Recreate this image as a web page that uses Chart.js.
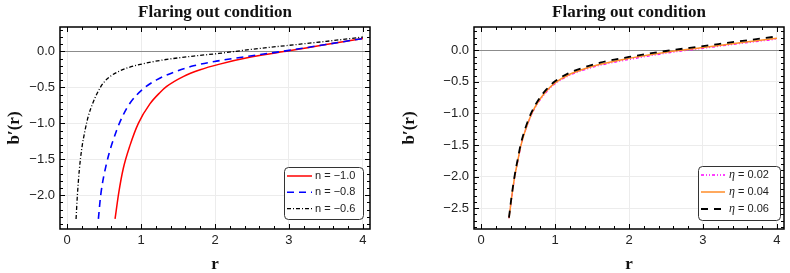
<!DOCTYPE html>
<html>
<head>
<meta charset="utf-8">
<script src="https://cdn.jsdelivr.net/npm/chart.js@4.4.1/dist/chart.umd.min.js"></script>
<style>
  html, body { margin: 0; padding: 0; background: #fff; }
  #wrap { width: 790px; height: 273px; display: flex; }
  canvas { display: block; }
</style>
</head>
<body>
<div id="wrap">
  <canvas id="leftChart" width="395" height="273"></canvas>
  <canvas id="rightChart" width="395" height="273"></canvas>
</div>
<script>
// left panel: b'(r) for three n values
const rN10 = [0.649, 0.7, 0.761, 0.85, 0.964, 1.12, 1.257, 1.347, 1.57, 1.8, 2.05, 2.5, 3.0, 3.5, 4.0];
const bN10 = [-2.33, -1.96, -1.625, -1.31, -1.0, -0.73, -0.571, -0.487, -0.35, -0.255, -0.18, -0.075, 0.01, 0.095, 0.18];

const rN08 = [0.424, 0.455, 0.536, 0.67, 0.761, 0.85, 1.03, 1.21, 1.44, 1.71, 2.02, 2.5, 3.0, 3.5, 4.0];
const bN08 = [-2.33, -2.0, -1.55, -1.1, -0.88, -0.72, -0.52, -0.395, -0.29, -0.2, -0.135, -0.06, 0.015, 0.097, 0.18];

const rN06 = [0.122, 0.14, 0.166, 0.198, 0.243, 0.288, 0.356, 0.423, 0.49, 0.58, 0.716, 0.806, 0.99, 1.257, 1.71, 2.05, 2.5, 3.0, 3.5, 4.0];
const bN06 = [-2.33, -2.0, -1.65, -1.36, -1.1, -0.9, -0.7, -0.55, -0.44, -0.35, -0.27, -0.232, -0.18, -0.125, -0.065, -0.028, 0.03, 0.085, 0.14, 0.2];

// right panel: b'(r) for three eta values
const rEta = [0.378, 0.41, 0.455, 0.5, 0.536, 0.6, 0.685, 0.775, 0.887, 1.0, 1.18, 1.38, 1.61, 2.0, 2.5, 3.0, 3.5, 4.0];
const bEta02 = [-2.66, -2.37, -2.01, -1.74, -1.53, -1.27, -1.013, -0.825, -0.655, -0.53, -0.405, -0.315, -0.237, -0.145, -0.045, 0.032, 0.108, 0.178];
const bEta04 = [-2.66, -2.36, -2.0, -1.73, -1.52, -1.26, -1.0, -0.81, -0.64, -0.515, -0.39, -0.3, -0.22, -0.127, -0.03, 0.045, 0.12, 0.19];
const bEta06 = [-2.65, -2.34, -1.98, -1.7, -1.49, -1.23, -0.975, -0.785, -0.615, -0.49, -0.365, -0.275, -0.195, -0.105, -0.01, 0.067, 0.145, 0.22];

const xTickStep = 1;
const yTickStep = 0.5;

const toPts = (xs, ys) => xs.map((x, i) => ({ x: x, y: ys[i] }));

function fmt(v, d) {
  return (v < 0 ? "\u2212" : "") + Math.abs(v).toFixed(d);
}

function line(label, xs, ys, color, width, dash, order) {
  return {
    label: label,
    data: toPts(xs, ys),
    showLine: true,
    borderColor: color,
    backgroundColor: color,
    borderWidth: width,
    borderDash: dash,
    pointRadius: 0,
    cubicInterpolationMode: "monotone",
    order: order
  };
}

// frame with inward ticks on all four sides + boxed legend
const framePlugin = {
  id: "frameLegend",
  afterDatasetsDraw(chart, args, opts) {
    const ctx = chart.ctx;
    const a = chart.chartArea;
    const xs = chart.scales.x, ys = chart.scales.y;
    ctx.save();
    ctx.strokeStyle = "#000";
    ctx.lineWidth = 1;
    ctx.beginPath();
    for (let v = 0; v <= xs.max + 1e-9; v += 0.2) {
      const px = Math.round(xs.getPixelForValue(v)) + 0.5;
      const len = Math.abs(v - Math.round(v)) < 1e-6 ? 5 : 3;
      ctx.moveTo(px, a.bottom); ctx.lineTo(px, a.bottom - len);
      ctx.moveTo(px, a.top); ctx.lineTo(px, a.top + len);
    }
    const y0 = Math.ceil(ys.min * 10) / 10;
    for (let v = y0; v <= ys.max + 1e-9; v += 0.1) {
      const vv = Math.round(v * 10) / 10;
      const py = Math.round(ys.getPixelForValue(vv)) + 0.5;
      const len = Math.abs(vv * 2 - Math.round(vv * 2)) < 1e-6 ? 5 : 3;
      ctx.moveTo(a.left, py); ctx.lineTo(a.left + len, py);
      ctx.moveTo(a.right, py); ctx.lineTo(a.right - len, py);
    }
    ctx.stroke();
    ctx.lineWidth = 1.5;
    ctx.strokeRect(a.left, a.top, a.right - a.left, a.bottom - a.top);

    // legend
    const L = opts;
    ctx.beginPath();
    ctx.roundRect(L.x + 0.5, L.y + 0.5, L.w, L.h, 4);
    ctx.fillStyle = "#fff";
    ctx.fill();
    ctx.lineWidth = 1;
    ctx.strokeStyle = "#333";
    ctx.stroke();
    chart.data.datasets.forEach((ds, i) => {
      const ry = L.y + L.first + i * L.gap;
      ctx.beginPath();
      ctx.setLineDash(ds.borderDash || []);
      ctx.strokeStyle = ds.borderColor;
      ctx.lineWidth = ds.borderWidth;
      ctx.moveTo(L.x + L.s0, ry);
      ctx.lineTo(L.x + L.s1, ry);
      ctx.stroke();
      ctx.setLineDash([]);
      ctx.fillStyle = "#222";
      ctx.textBaseline = "middle";
      let tx = L.x + L.tx;
      let text = ds.label;
      if (text.charAt(0) === "\u03b7") {
        ctx.font = "italic 12px 'Liberation Serif'";
        ctx.fillText("\u03b7", tx, ry);
        tx += ctx.measureText("\u03b7").width;
        text = text.slice(1);
      }
      ctx.font = "11px 'Liberation Sans'";
      ctx.fillText(text, tx, ry);
    });
    ctx.restore();
  }
};

function makeOptions(yMin, yMax, yAxisWidth, padRight, legend) {
  return {
    responsive: false,
    animation: false,
    events: [],
    layout: { padding: { left: 0, right: padRight, top: 0, bottom: 0 } },
    plugins: {
      legend: { display: false },
      tooltip: { enabled: false },
      title: {
        display: true,
        text: "Flaring out condition",
        fullSize: false,
        color: "#111",
        font: { family: "'Liberation Serif'", size: 17, weight: "bold", lineHeight: 1.2 },
        padding: { top: 2, bottom: 4.6 }
      },
      frameLegend: legend
    },
    scales: {
      x: {
        type: "linear",
        min: -0.095,
        max: 4.095,
        ticks: {
          stepSize: xTickStep,
          includeBounds: false,
          maxRotation: 0,
          padding: 4,
          color: "#222",
          font: { family: "'Liberation Sans'", size: 13 },
          callback: v => fmt(v, 0)
        },
        grid: { color: "#ececec", drawTicks: false },
        border: { display: false },
        title: {
          display: true,
          text: "r",
          color: "#111",
          font: { family: "'Liberation Serif'", size: 17, weight: "bold", lineHeight: 1 },
          padding: { top: 0, bottom: 0 }
        },
        afterFit: s => { s.height = 44; }
      },
      y: {
        type: "linear",
        min: yMin,
        max: yMax,
        ticks: {
          stepSize: yTickStep,
          includeBounds: false,
          padding: 5,
          color: "#222",
          font: { family: "'Liberation Sans'", size: 13 },
          callback: v => fmt(v, 1)
        },
        grid: {
          drawTicks: false,
          color: c => (Math.abs(c.tick.value) < 1e-9 ? "#8c8c8c" : "#ececec")
        },
        border: { display: false },
        title: {
          display: true,
          text: "b\u2032(r)",
          color: "#111",
          font: { family: "'Liberation Serif'", size: 17, weight: "bold", lineHeight: 1 },
          padding: { top: 6.5, bottom: 0 }
        },
        afterFit: s => { s.width = yAxisWidth; }
      }
    }
  };
}

new Chart(document.getElementById("leftChart"), {
  type: "scatter",
  data: {
    datasets: [
      line("n = \u22121.0", rN10, bN10, "#ff0000", 1.5, [], 3),
      line("n = \u22120.8", rN08, bN08, "#0000ff", 1.6, [7, 5], 2),
      line("n = \u22120.6", rN06, bN06, "#000000", 1.3, [4, 2, 1, 2], 1)
    ]
  },
  options: makeOptions(-2.47, 0.34, 60, 25,
    { x: 284, y: 167, w: 79, h: 52, first: 9, gap: 16.3, s0: 3, s1: 28, tx: 31 }),
  plugins: [framePlugin]
});

new Chart(document.getElementById("rightChart"), {
  type: "scatter",
  data: {
    datasets: [
      line("\u03b7 = 0.02", rEta, bEta02, "#ff00ff", 1.3, [3, 2, 1, 2, 1, 2], 3),
      line("\u03b7 = 0.04", rEta, bEta04, "#ff8c28", 1.5, [], 2),
      line("\u03b7 = 0.06", rEta, bEta06, "#000000", 1.8, [7, 6], 1)
    ]
  },
  options: makeOptions(-2.83, 0.37, 79, 6,
    { x: 303, y: 166, w: 82, h: 54, first: 9, gap: 17, s0: 3, s1: 27, tx: 31 }),
  plugins: [framePlugin]
});
</script>
</body>
</html>
